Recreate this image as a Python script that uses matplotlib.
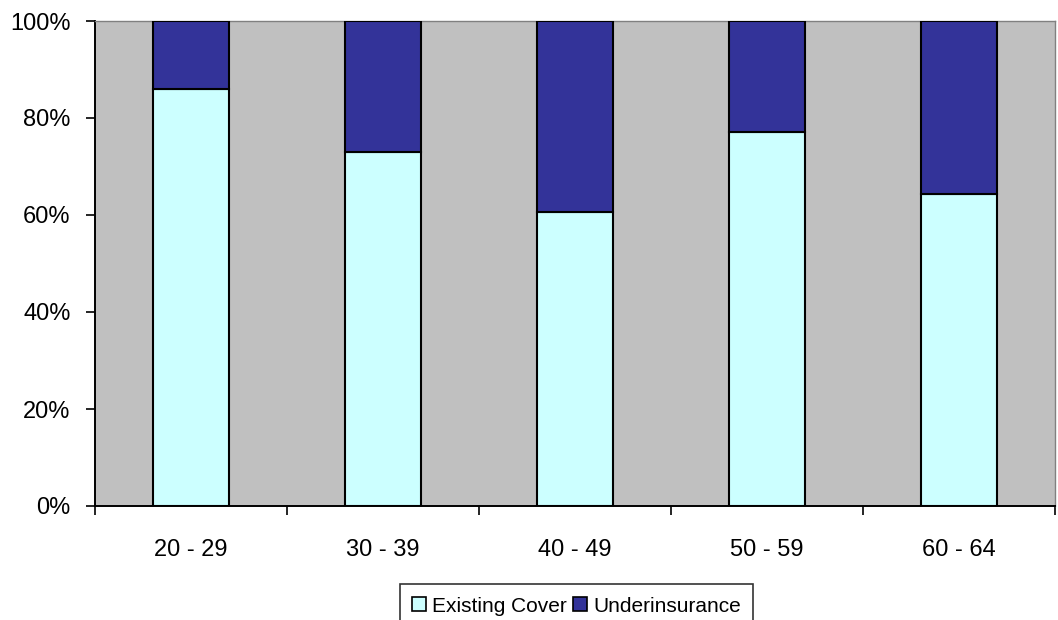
import numpy as np
import matplotlib.pyplot as plt
from matplotlib.ticker import PercentFormatter

plt.rcParams['font.family'] = ['Liberation Sans', 'DejaVu Sans']

# data
categories = ['20 - 29', '30 - 39', '40 - 49', '50 - 59', '60 - 64']
existing_cover = [86.0, 72.9, 60.7, 77.1, 64.3]
underinsurance = [100 - v for v in existing_cover]

fig = plt.figure(figsize=(10.58, 6.2), dpi=100)
ax = fig.add_axes([95 / 1058, 1 - 506 / 620, 960 / 1058, 485 / 620])

x = np.arange(len(categories))
ax.bar(x, existing_cover, width=0.4, color='#CCFFFF', edgecolor='black',
       linewidth=1.5, label='Existing Cover', zorder=3)
ax.bar(x, underinsurance, width=0.4, bottom=existing_cover, color='#333399',
       edgecolor='black', linewidth=1.5, label='Underinsurance', zorder=3)

ax.set_facecolor('#C0C0C0')
ax.set_xlim(-0.5, len(categories) - 0.5)
ax.set_ylim(0, 100)
ax.set_yticks(np.arange(0, 101, 20))
ax.yaxis.set_major_formatter(PercentFormatter(decimals=0))

# category labels centred, ticks on boundaries
ax.set_xticks(np.arange(-0.5, len(categories)), minor=False)
ax.set_xticklabels([])
ax.set_xticks(x, minor=True)
ax.set_xticklabels(categories, minor=True)
ax.tick_params(axis='x', which='minor', length=0, pad=24, labelsize=17)
ax.tick_params(axis='x', which='major', length=6.5, width=1.2, direction='out')
ax.tick_params(axis='y', length=6.5, width=1.2, direction='out', labelsize=17, pad=11)

for s in ['left', 'bottom']:
    ax.spines[s].set_color('black')
    ax.spines[s].set_linewidth(1.4)
for s in ['top', 'right']:
    ax.spines[s].set_color('#808080')
    ax.spines[s].set_linewidth(1.0)

leg = fig.legend(loc='upper center', bbox_to_anchor=(576.5 / 1058, 1 - 584 / 620),
                 ncol=2, frameon=True, fancybox=False, edgecolor='black',
                 fontsize=15, handlelength=0.65, handleheight=0.65,
                 handletextpad=0.3, columnspacing=0.3, borderpad=0.6,
                 borderaxespad=0)
leg.get_frame().set_linewidth(1.2)
for h in leg.legend_handles:
    h.set_linewidth(1.2)

fig.savefig('out.png', dpi=100)
